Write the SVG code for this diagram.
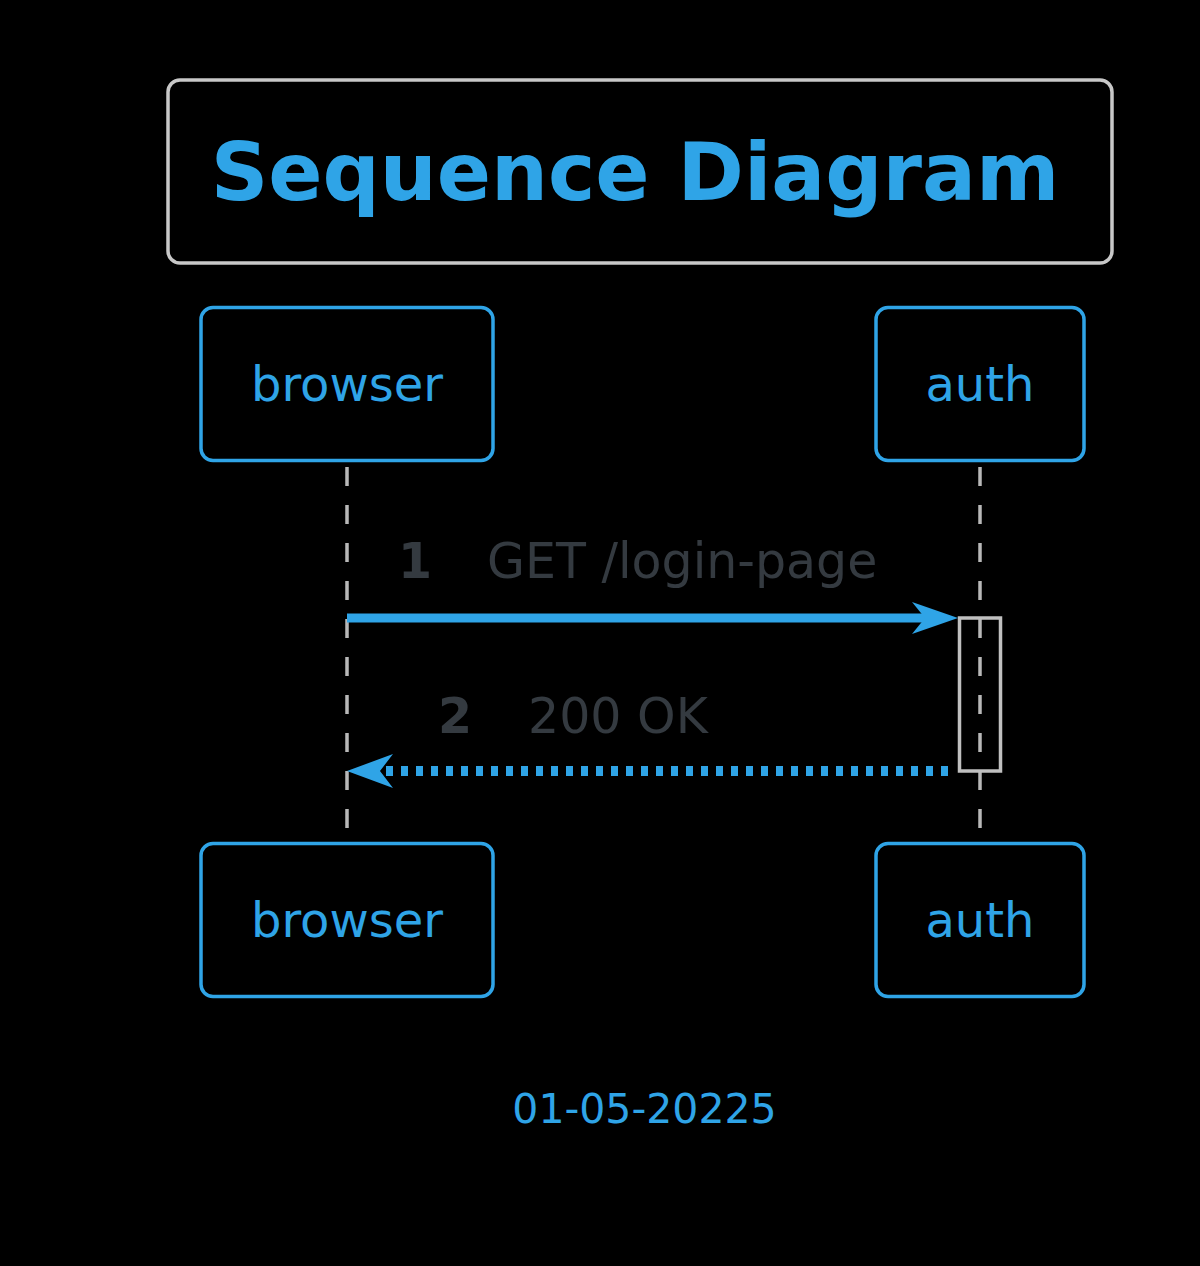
<svg xmlns="http://www.w3.org/2000/svg" width="1200" height="1266" viewBox="0 0 1200 1266">
<style>
.box{fill:#000;stroke:#2fa4e7;stroke-width:3.5}
.ptxt{font-family:"DejaVu Sans",Verdana,sans-serif;font-size:48px;fill:#2fa4e7;text-anchor:middle}
.life{stroke:#b8b8b8;stroke-width:3.5;stroke-dasharray:19 19;fill:none}
.mtxt{font-family:"DejaVu Sans",Verdana,sans-serif;font-size:49px;fill:#343a40}
.num{font-weight:bold}
</style>
<rect width="1200" height="1266" fill="#000"/>
<g id="title">
<rect x="168" y="80" width="944" height="183" rx="12" fill="#000" stroke="#c8c8c8" stroke-width="3.5"/>
<text x="635" y="200" font-family="DejaVu Sans,Verdana,sans-serif" font-size="80" font-weight="bold" fill="#2fa4e7" text-anchor="middle">Sequence Diagram</text>
</g>
<g id="lifelines">
<line class="life" x1="347" y1="467" x2="347" y2="843"/>
<line class="life" x1="980" y1="467" x2="980" y2="843"/>
</g>
<g id="activation">
<rect x="959.5" y="618" width="41" height="153" fill="none" stroke="#c0c0c0" stroke-width="3.5"/>
</g>
<g id="browser-top">
<rect class="box" x="201" y="307.5" width="292" height="153" rx="12"/>
<text class="ptxt" x="347" y="401">browser</text>
</g>
<g id="auth-top">
<rect class="box" x="876" y="307.5" width="208" height="153" rx="12"/>
<text class="ptxt" x="980" y="401">auth</text>
</g>
<g id="browser-bottom">
<rect class="box" x="201" y="843.5" width="292" height="153" rx="12"/>
<text class="ptxt" x="347" y="937">browser</text>
</g>
<g id="auth-bottom">
<rect class="box" x="876" y="843.5" width="208" height="153" rx="12"/>
<text class="ptxt" x="980" y="937">auth</text>
</g>
<g id="connectors">
<line x1="347" y1="618" x2="935" y2="618" stroke="#2fa4e7" stroke-width="9"/>
<polygon points="958,618 912,602 925,618 912,634" fill="#2fa4e7"/>
<line x1="948" y1="771" x2="378" y2="771" stroke="#2fa4e7" stroke-width="10" stroke-dasharray="7 8"/>
<polygon points="347,771 393,754 380,771 393,788" fill="#2fa4e7"/>
</g>
<g id="labels">
<text class="mtxt num" x="398" y="578">1</text>
<text class="mtxt" x="487" y="578">GET /login-page</text>
<text class="mtxt num" x="438" y="733">2</text>
<text class="mtxt" x="528" y="733">200 OK</text>
</g>
<g id="footer">
<text x="644.5" y="1123" font-family="DejaVu Sans,Verdana,sans-serif" font-size="41" fill="#2fa4e7" text-anchor="middle">01-05-20225</text>
</g>
</svg>
